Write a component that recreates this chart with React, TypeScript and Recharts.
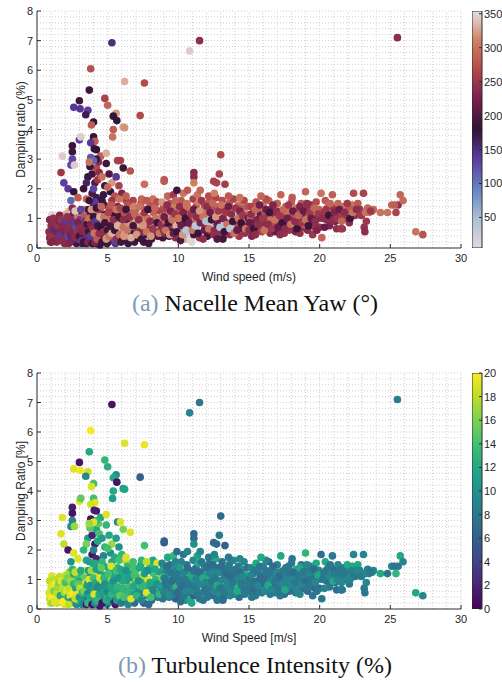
import React from 'react';
import {
  ScatterChart,
  Scatter,
  BarChart,
  Bar,
  XAxis,
  YAxis,
  ReferenceLine,
} from 'recharts';

// [wind speed (m/s), damping ratio (%), nacelle yaw (deg), turbulence intensity (%)]
const spikes = [
  [5.3, 6.93, 150, 1], [10.8, 6.65, 345, 9], [11.5, 7.0, 240, 8], [25.5, 7.1, 238, 8.5],
  [3.8, 6.05, 272, 20], [6.2, 5.62, 330, 19], [7.6, 5.57, 268, 19.5], [3.7, 5.33, 190, 12],
  [4.8, 5.05, 262, 13], [3.0, 4.97, 192, 1], [5.0, 4.82, 290, 12.5], [2.6, 4.75, 140, 19],
  [3.05, 4.7, 142, 19.5], [3.6, 4.65, 138, 18.5], [3.45, 4.5, 168, 9], [5.6, 4.55, 322, 10],
  [5.4, 4.45, 182, 12], [5.65, 4.3, 178, 1], [7.3, 4.47, 268, 6], [4.0, 4.25, 186, 14],
  [3.85, 4.15, 282, 19], [6.1, 4.08, 325, 11], [6.2, 4.06, 318, 11.5], [5.4, 4.0, 285, 12],
  [4.0, 3.75, 182, 14], [5.35, 3.75, 300, 11], [3.0, 3.65, 138, 19], [3.1, 3.75, 345, 15],
  [4.1, 3.6, 282, 19], [3.8, 3.55, 140, 18.5], [2.5, 3.45, 186, 1.5], [4.05, 3.35, 184, 1.5],
  [2.5, 3.25, 188, 1], [4.2, 3.32, 180, 1.5], [13.0, 3.15, 268, 7], [1.8, 3.1, 345, 19],
  [4.9, 3.2, 330, 19], [2.5, 3.0, 130, 9], [3.8, 3.05, 120, 1], [5.7, 2.95, 262, 9],
  [5.9, 2.95, 258, 19], [2.4, 2.8, 128, 10], [2.65, 2.8, 345, 17], [4.9, 2.85, 192, 13],
  [4.0, 2.95, 110, 19], [3.7, 2.9, 300, 17], [1.7, 2.55, 248, 19], [11.1, 2.55, 238, 7],
  [11.1, 2.4, 240, 7], [12.9, 2.5, 262, 8], [6.6, 2.6, 275, 19], [6.1, 2.7, 188, 16],
  [9.0, 2.3, 275, 6], [9.0, 2.25, 280, 6], [12.5, 2.25, 260, 7], [12.7, 2.2, 262, 7],
  [13.3, 2.15, 255, 6], [11.1, 2.2, 310, 10], [1.9, 2.2, 135, 18], [2.2, 2.0, 140, 1],
  [7.6, 2.15, 298, 14], [9.9, 1.95, 188, 7], [2.6, 1.9, 182, 19], [2.9, 1.7, 282, 19],
  [2.4, 1.6, 110, 10], [3.1, 1.3, 130, 12],
];

const lowWind = [
  [0.9, 0.35, 235, 18], [1.0, 0.75, 240, 19], [1.05, 1.12, 350, 19], [1.1, 0.55, 230, 20],
  [1.2, 0.9, 245, 18], [1.3, 0.3, 228, 17], [1.35, 0.65, 250, 20], [1.5, 1.0, 240, 16],
  [1.5, 0.45, 232, 19], [1.6, 0.78, 225, 18], [1.7, 0.25, 238, 14], [1.75, 0.6, 242, 19],
  [1.85, 0.95, 236, 20], [1.9, 0.4, 220, 17], [2.0, 0.7, 245, 15], [2.05, 1.15, 330, 18],
  [2.1, 0.3, 150, 8], [2.2, 0.55, 140, 2], [2.25, 0.85, 232, 15], [2.3, 1.25, 330, 17],
  [2.35, 0.2, 240, 9], [2.4, 0.65, 145, 10], [2.45, 1.0, 250, 19], [2.5, 0.4, 110, 1],
  [2.55, 0.75, 235, 12], [2.6, 1.15, 160, 11], [2.65, 0.3, 230, 9], [2.7, 0.55, 120, 12],
  [2.75, 0.9, 245, 19], [2.8, 0.15, 190, 10], [2.85, 1.05, 300, 14], [2.9, 0.45, 140, 13],
  [2.95, 0.7, 255, 19], [3.0, 0.25, 180, 8], [3.05, 0.95, 135, 12], [3.1, 0.55, 240, 16],
  [3.15, 1.25, 190, 11], [3.2, 0.15, 170, 9], [3.25, 0.8, 255, 19], [3.3, 0.4, 145, 3],
  [3.35, 1.1, 280, 15], [3.4, 0.65, 232, 10], [3.45, 0.2, 185, 11], [1.4, 0.2, 240, 18],
  [1.15, 0.3, 236, 20], [0.95, 0.2, 242, 19], [1.6, 1.1, 232, 18], [1.25, 0.45, 238, 19],
  [1.8, 0.5, 130, 17], [2.15, 0.2, 234, 16], [2.5, 1.35, 240, 13], [2.7, 1.25, 340, 18],
  [3.1, 0.35, 140, 12], [3.3, 0.9, 120, 13], [2.2, 0.95, 150, 13], [1.95, 0.15, 236, 19],
  [2.6, 0.5, 125, 11], [3.4, 1.3, 300, 19], [2.9, 0.3, 240, 14], [2.0, 0.45, 238, 18],
  [0.85, 0.55, 238, 19], [0.9, 0.95, 232, 18], [1.0, 0.4, 245, 20], [1.05, 0.2, 228, 17],
  [1.1, 0.8, 236, 19], [1.15, 1.0, 242, 18], [1.2, 0.6, 150, 16], [1.25, 0.25, 232, 19],
  [1.3, 0.85, 240, 20], [1.4, 0.55, 226, 18], [1.45, 0.75, 244, 17], [1.55, 0.3, 238, 19],
  [1.55, 0.9, 230, 16], [1.65, 0.45, 140, 12], [1.7, 0.95, 246, 19], [1.8, 0.7, 234, 18],
  [1.85, 0.25, 238, 20], [1.95, 0.55, 228, 17], [2.0, 0.9, 140, 14], [2.1, 0.6, 236, 19],
  [2.15, 1.05, 242, 16], [2.2, 0.4, 130, 12], [2.3, 0.7, 238, 18], [2.35, 0.45, 226, 19],
  [2.4, 0.95, 240, 17], [2.45, 0.25, 150, 9], [2.55, 0.55, 232, 20], [2.6, 0.85, 140, 13],
  [2.7, 0.35, 236, 18], [2.75, 0.7, 130, 11], [2.85, 0.5, 244, 19], [2.9, 0.85, 226, 15],
  [3.0, 0.4, 190, 10], [3.05, 0.7, 238, 18], [3.15, 0.25, 140, 11], [3.2, 0.55, 232, 13],
  [3.3, 0.2, 186, 9], [3.35, 0.6, 236, 16], [3.45, 0.9, 240, 19], [2.25, 0.15, 230, 18],
];

const risingWind = [
  [3.6, 2.4, 175, 11], [3.9, 2.5, 190, 2], [4.2, 2.7, 270, 12], [4.4, 2.55, 240, 14],
  [4.1, 2.2, 200, 1.5], [3.5, 2.2, 160, 16], [4.3, 2.3, 250, 12], [3.75, 2.75, 185, 15],
  [4.5, 3.1, 285, 12], [4.35, 2.9, 240, 15], [4.2, 3.0, 175, 13], [4.6, 2.4, 300, 11],
  [4.8, 2.1, 190, 13], [5.1, 2.5, 200, 12], [5.3, 2.2, 320, 17], [5.6, 2.4, 140, 11],
  [5.2, 1.9, 180, 10], [5.0, 2.05, 290, 14], [5.8, 2.1, 260, 10], [5.5, 1.75, 275, 12],
  [6.3, 1.6, 260, 18], [6.0, 1.85, 230, 13], [4.7, 1.8, 175, 9], [3.9, 1.85, 200, 1],
  [4.2, 1.7, 170, 2], [3.5, 1.65, 290, 12], [3.3, 2.0, 185, 13], [4.0, 2.0, 130, 9],
  [3.5, 0.15, 185, 1], [3.55, 0.5, 240, 12], [3.6, 0.9, 300, 13], [3.65, 1.3, 190, 11],
  [3.7, 0.3, 150, 9], [3.75, 0.7, 280, 19], [3.8, 1.1, 185, 10], [3.85, 0.2, 140, 1],
  [3.9, 0.55, 320, 17], [3.95, 0.95, 270, 14], [4.0, 1.4, 190, 12], [4.05, 0.35, 240, 8],
  [4.1, 0.8, 175, 10], [4.15, 1.2, 290, 19], [4.2, 0.15, 190, 12], [4.25, 0.6, 305, 15],
  [4.3, 1.0, 185, 13], [4.35, 0.4, 160, 9], [4.4, 0.85, 270, 19], [4.45, 1.3, 250, 11],
  [4.5, 0.25, 185, 2], [4.55, 0.7, 310, 14], [4.6, 1.1, 240, 12], [4.65, 0.45, 175, 10],
  [4.7, 0.9, 320, 18], [4.75, 1.45, 195, 12], [4.8, 0.3, 250, 10], [4.85, 0.75, 290, 13],
  [4.9, 1.15, 185, 11], [4.95, 0.5, 330, 19], [5.0, 0.95, 300, 15], [5.05, 0.2, 200, 9],
  [5.1, 1.35, 270, 12], [5.15, 0.65, 330, 14], [5.2, 1.05, 300, 16], [5.25, 0.4, 190, 10],
  [5.3, 0.85, 325, 13], [5.35, 1.25, 260, 11], [5.4, 0.3, 140, 3], [5.45, 0.7, 310, 15],
  [5.5, 1.1, 185, 12], [5.55, 0.15, 145, 1], [5.6, 0.55, 300, 14], [5.65, 0.95, 320, 11],
  [5.7, 1.4, 230, 13], [5.75, 0.35, 190, 10], [5.8, 0.8, 315, 19], [5.85, 1.2, 270, 12],
  [5.9, 0.6, 330, 13], [5.95, 1.0, 190, 11], [4.1, 1.55, 140, 12], [4.6, 1.6, 185, 13],
  [5.3, 1.6, 250, 12], [3.7, 1.6, 185, 11], [5.8, 1.65, 300, 14], [4.3, 0.5, 110, 12],
  [3.9, 0.3, 120, 9], [5.55, 0.25, 130, 2], [4.95, 0.15, 190, 10], [4.45, 0.1, 175, 1],
  [3.55, 0.8, 190, 11], [3.6, 0.2, 230, 13], [3.65, 0.55, 185, 9], [3.7, 1.0, 300, 19],
  [3.75, 0.4, 140, 12], [3.8, 0.8, 230, 10], [3.85, 1.3, 320, 17], [3.9, 0.15, 188, 1],
  [3.95, 0.65, 240, 11], [4.0, 1.05, 185, 14], [4.05, 0.5, 300, 19], [4.1, 0.2, 230, 10],
  [4.15, 0.9, 140, 12], [4.2, 1.35, 186, 11], [4.25, 0.3, 280, 13], [4.3, 0.75, 190, 9],
  [4.4, 0.5, 240, 12], [4.45, 1.05, 330, 19], [4.5, 0.7, 180, 10], [4.55, 1.4, 290, 15],
  [4.6, 0.2, 186, 1], [4.7, 0.55, 240, 11], [4.75, 1.05, 300, 13], [4.8, 0.85, 190, 10],
  [4.9, 0.3, 320, 12], [5.0, 0.6, 186, 9], [5.05, 1.2, 260, 14], [5.1, 0.4, 300, 11],
  [5.2, 0.75, 190, 12], [5.25, 1.45, 280, 19], [5.3, 0.5, 330, 13], [5.4, 0.95, 240, 10],
  [5.5, 0.6, 186, 12], [5.6, 1.3, 300, 14], [5.65, 0.3, 240, 11], [5.7, 0.75, 330, 13],
  [5.8, 1.05, 190, 10], [5.85, 0.45, 300, 15], [5.9, 1.35, 260, 12], [5.95, 0.2, 186, 9],
];

const midWind = [
  [6.05, 0.25, 190, 8], [6.1, 0.7, 300, 13], [6.2, 1.15, 270, 12], [6.25, 0.45, 330, 15],
  [6.35, 0.95, 190, 10], [6.4, 1.45, 275, 13], [6.5, 0.3, 240, 9], [6.55, 0.75, 320, 14],
  [6.6, 1.2, 290, 12], [6.7, 0.5, 185, 11], [6.75, 1.0, 300, 19], [6.8, 1.6, 260, 14],
  [6.9, 0.2, 190, 7], [6.95, 0.85, 320, 13], [7.0, 1.3, 285, 15], [7.1, 0.6, 250, 10],
  [7.15, 1.05, 305, 12], [7.2, 0.35, 180, 8], [7.3, 0.8, 330, 14], [7.35, 1.5, 280, 12],
  [7.45, 0.55, 240, 9], [7.5, 1.1, 300, 18], [7.55, 0.2, 190, 6], [7.65, 0.9, 315, 13],
  [7.7, 1.3, 265, 12], [7.8, 0.45, 200, 10], [7.85, 1.0, 300, 19], [7.95, 0.7, 245, 11],
  [8.0, 1.45, 275, 13], [8.1, 0.3, 190, 7], [8.15, 0.85, 325, 12], [8.25, 1.2, 290, 14],
  [8.3, 0.55, 240, 9], [8.4, 1.0, 300, 13], [8.45, 1.55, 280, 15], [8.55, 0.4, 200, 8],
  [8.6, 0.8, 320, 12], [8.7, 1.25, 260, 11], [8.75, 0.6, 240, 10], [8.85, 1.05, 305, 16],
  [8.9, 0.35, 190, 8], [8.95, 1.4, 275, 12], [6.3, 1.75, 285, 19], [7.4, 1.65, 290, 13],
  [8.2, 1.65, 300, 12], [6.45, 0.15, 175, 9], [7.9, 0.15, 190, 7], [8.5, 1.55, 270, 19],
  [6.85, 1.4, 310, 14], [7.75, 1.6, 280, 18],
  [6.1, 0.95, 240, 12], [6.15, 0.4, 320, 14], [6.3, 1.3, 186, 10], [6.4, 0.6, 300, 13],
  [6.55, 1.05, 240, 11], [6.65, 0.35, 330, 19], [6.8, 0.75, 190, 12], [6.9, 1.15, 290, 14],
  [7.05, 0.45, 320, 13], [7.2, 0.95, 240, 10], [7.25, 1.4, 300, 12], [7.4, 0.3, 186, 9],
  [7.5, 0.75, 320, 13], [7.6, 1.2, 250, 11], [7.75, 0.55, 300, 19], [7.85, 1.3, 186, 10],
  [8.0, 0.9, 240, 12], [8.05, 0.4, 320, 14], [8.2, 0.65, 250, 9], [8.35, 1.35, 290, 12],
  [8.5, 0.85, 186, 10], [8.65, 0.5, 300, 13], [8.8, 0.8, 240, 11], [8.85, 1.55, 320, 9],
  [8.95, 0.6, 250, 10],
];

const ratedWind = [
  [9.05, 0.5, 240, 8], [9.1, 0.9, 290, 7], [9.15, 1.3, 260, 9], [9.2, 0.7, 200, 6],
  [9.3, 1.1, 320, 11], [9.35, 0.4, 190, 8], [9.4, 1.5, 275, 7], [9.5, 0.8, 245, 9],
  [9.55, 1.2, 300, 12], [9.6, 0.55, 185, 7], [9.7, 1.0, 270, 8], [9.75, 1.4, 310, 10],
  [9.8, 0.35, 240, 6], [9.85, 0.75, 330, 13], [9.9, 1.15, 255, 8], [10.0, 0.6, 40, 9],
  [10.05, 1.35, 290, 7], [10.1, 0.9, 200, 8], [10.2, 1.6, 280, 9], [10.25, 0.45, 250, 7],
  [10.3, 1.05, 320, 12], [10.4, 0.7, 30, 8], [10.45, 1.25, 270, 9], [10.5, 0.3, 330, 10],
  [10.55, 0.85, 190, 7], [10.6, 1.5, 300, 8], [10.7, 1.0, 245, 11], [10.75, 0.55, 50, 7],
  [10.8, 1.3, 285, 9], [10.85, 0.3, 350, 12], [10.9, 0.75, 240, 8], [11.0, 1.15, 320, 7],
  [11.05, 1.65, 260, 9], [11.1, 0.45, 190, 6], [11.2, 0.95, 300, 10], [11.25, 1.4, 275, 8],
  [11.3, 0.65, 45, 9], [11.4, 1.1, 240, 7], [11.45, 1.55, 310, 12], [11.5, 0.35, 250, 8],
  [11.6, 0.85, 200, 9], [11.65, 1.25, 290, 7], [11.7, 0.55, 35, 10], [11.8, 1.0, 330, 8],
  [11.85, 1.45, 265, 9], [11.9, 0.7, 240, 7], [12.0, 1.2, 300, 11], [12.05, 0.4, 190, 8],
  [12.1, 0.9, 40, 9], [12.2, 1.55, 280, 8], [12.25, 0.6, 250, 7], [12.3, 1.05, 320, 13],
  [12.4, 1.35, 270, 9], [12.45, 0.8, 350, 8], [12.5, 0.45, 240, 7], [12.6, 1.15, 300, 9],
  [12.65, 1.7, 260, 12], [12.7, 0.65, 45, 8], [12.8, 0.95, 190, 9], [12.85, 1.4, 285, 7],
  [12.9, 0.5, 240, 10], [13.0, 1.25, 330, 8], [13.05, 0.75, 35, 9], [13.1, 1.6, 270, 8],
  [13.2, 0.4, 250, 7], [13.25, 1.0, 300, 12], [13.3, 1.35, 240, 9], [13.4, 0.6, 50, 8],
  [13.45, 1.15, 320, 7], [13.5, 0.85, 190, 10], [13.6, 1.5, 280, 8], [13.65, 0.45, 245, 9],
  [13.7, 1.05, 350, 7], [13.8, 0.7, 40, 8], [13.85, 1.3, 290, 11], [13.9, 1.65, 260, 9],
  [14.0, 0.55, 240, 7], [14.05, 0.95, 320, 8], [14.1, 1.2, 200, 9], [14.2, 0.8, 270, 13],
  [14.25, 1.45, 300, 8], [14.3, 0.4, 250, 7], [14.4, 1.05, 240, 9], [14.45, 0.65, 190, 8],
  [14.5, 1.35, 285, 10], [14.6, 0.9, 330, 7], [14.65, 1.6, 265, 9], [14.7, 0.5, 245, 8],
  [14.8, 1.15, 300, 12], [14.85, 0.75, 240, 9], [14.9, 1.4, 275, 7], [9.25, 1.75, 290, 12],
  [10.35, 1.85, 300, 8], [10.65, 1.95, 280, 9], [11.35, 1.8, 300, 11], [12.15, 1.75, 270, 8],
  [12.55, 1.85, 310, 9], [13.55, 1.75, 280, 8], [14.35, 1.7, 300, 9], [9.65, 1.8, 250, 13],
  [10.15, 0.25, 200, 7], [11.75, 0.3, 240, 8], [13.15, 0.3, 190, 7], [10.95, 0.2, 350, 12],
  [12.75, 0.3, 200, 8], [11.55, 1.95, 290, 9], [13.95, 1.2, 45, 8], [10.45, 0.5, 40, 8],
  [12.35, 0.7, 30, 9],
  [9.0, 1.05, 220, 8], [9.1, 0.6, 300, 9], [9.2, 1.45, 240, 7], [9.3, 0.85, 186, 8],
  [9.4, 0.45, 320, 10], [9.45, 1.25, 230, 8], [9.55, 0.95, 300, 7], [9.65, 0.5, 215, 9],
  [9.75, 1.15, 250, 8], [9.8, 1.6, 290, 9], [9.9, 0.55, 186, 7], [10.0, 1.0, 300, 8],
  [10.1, 1.4, 240, 11], [10.2, 0.75, 215, 7], [10.3, 0.45, 320, 8], [10.35, 1.2, 230, 9],
  [10.5, 1.0, 186, 8], [10.55, 0.6, 40, 9], [10.65, 1.4, 300, 7], [10.75, 0.85, 220, 8],
  [10.9, 1.15, 250, 12], [11.0, 0.6, 300, 9], [11.1, 1.3, 215, 7], [11.2, 0.75, 35, 8],
  [11.3, 1.05, 240, 9], [11.4, 0.5, 186, 8], [11.5, 1.25, 320, 7], [11.55, 0.85, 230, 9],
  [11.65, 1.6, 250, 8], [11.75, 1.05, 300, 12], [11.85, 0.6, 215, 8], [11.95, 0.9, 45, 9],
  [12.05, 1.4, 240, 7], [12.15, 0.65, 300, 8], [12.25, 1.2, 220, 9], [12.35, 0.95, 186, 8],
  [12.45, 1.5, 290, 7], [12.55, 0.6, 240, 9], [12.65, 1.05, 320, 8], [12.75, 0.8, 215, 12],
  [12.85, 1.25, 250, 9], [12.95, 0.7, 40, 8], [13.05, 1.45, 300, 7], [13.15, 1.0, 230, 9],
  [13.25, 0.55, 186, 8], [13.35, 1.2, 250, 7], [13.45, 0.8, 300, 9], [13.55, 1.4, 220, 8],
  [13.65, 0.65, 35, 9], [13.75, 1.15, 240, 7], [13.85, 0.9, 186, 8], [13.95, 0.5, 300, 9],
  [14.05, 1.35, 250, 8], [14.15, 0.6, 215, 12], [14.25, 1.0, 300, 9], [14.35, 1.25, 230, 7],
  [14.45, 0.85, 186, 8], [14.55, 1.1, 250, 9], [14.75, 0.65, 300, 8], [14.95, 1.0, 220, 9],
];

const highWind = [
  [15.0, 0.6, 240, 8], [15.1, 1.0, 280, 7], [15.15, 1.4, 260, 9], [15.25, 0.8, 220, 7],
  [15.3, 1.2, 300, 8], [15.4, 0.5, 245, 9], [15.5, 1.55, 275, 12], [15.55, 0.95, 230, 7],
  [15.65, 1.3, 290, 8], [15.7, 0.7, 250, 9], [15.8, 1.1, 215, 7], [15.9, 0.55, 265, 8],
  [16.0, 1.45, 300, 9], [16.05, 0.85, 240, 7], [16.15, 1.2, 280, 8], [16.25, 0.65, 220, 9],
  [16.3, 1.05, 255, 8], [16.4, 1.6, 290, 7], [16.5, 0.5, 240, 8], [16.55, 0.95, 300, 9],
  [16.65, 1.35, 225, 8], [16.75, 0.75, 270, 7], [16.8, 1.15, 245, 9], [16.9, 0.55, 210, 8],
  [17.0, 1.5, 285, 9], [17.1, 0.9, 240, 7], [17.2, 1.25, 300, 8], [17.25, 1.8, 290, 12],
  [17.3, 0.65, 230, 8], [17.4, 1.05, 260, 9], [17.5, 0.5, 245, 7], [17.6, 1.4, 280, 8],
  [17.65, 0.85, 220, 9], [17.75, 1.2, 300, 8], [17.85, 0.6, 250, 7], [17.9, 1.0, 235, 9],
  [18.0, 1.55, 285, 8], [18.1, 0.75, 240, 7], [18.2, 1.15, 270, 9], [18.3, 0.55, 225, 8],
  [18.35, 1.35, 300, 12], [18.45, 0.9, 245, 8], [18.55, 1.25, 260, 9], [18.65, 0.65, 240, 7],
  [18.7, 1.5, 280, 8], [18.8, 1.05, 230, 9], [18.9, 0.8, 300, 8], [19.0, 1.9, 290, 13],
  [19.05, 1.3, 250, 8], [19.15, 0.6, 235, 7], [19.25, 1.1, 285, 9], [19.35, 1.45, 240, 8],
  [19.45, 0.85, 220, 9], [19.55, 1.2, 300, 8], [19.65, 0.7, 245, 7], [19.75, 1.55, 270, 12],
  [19.85, 1.0, 230, 8], [19.95, 1.3, 285, 9], [20.0, 0.7, 240, 7], [20.1, 1.85, 300, 7],
  [16.2, 1.65, 270, 9], [18.05, 1.7, 280, 8], [15.85, 1.75, 290, 12], [17.2, 0.45, 240, 8],
  [19.5, 0.45, 250, 8], [15.2, 0.4, 230, 8], [18.6, 0.5, 245, 9],
  [15.05, 0.85, 215, 8], [15.15, 1.15, 240, 9], [15.35, 0.65, 186, 7], [15.45, 1.3, 290, 8],
  [15.6, 0.8, 240, 9], [15.75, 1.45, 220, 8], [15.95, 1.0, 250, 7], [16.1, 0.6, 300, 9],
  [16.2, 1.3, 215, 8], [16.35, 0.8, 240, 12], [16.45, 1.2, 186, 8], [16.6, 0.65, 250, 9],
  [16.7, 1.45, 230, 7], [16.85, 0.95, 300, 8], [16.95, 1.25, 240, 9], [17.05, 0.7, 215, 8],
  [17.15, 1.1, 250, 7], [17.35, 0.85, 186, 9], [17.45, 1.3, 290, 8], [17.55, 0.65, 240, 12],
  [17.7, 1.0, 220, 9], [17.8, 1.45, 250, 8], [17.95, 0.8, 300, 9], [18.1, 1.25, 215, 7],
  [18.25, 0.9, 240, 8], [18.4, 0.65, 186, 9], [18.5, 1.1, 290, 8], [18.6, 1.4, 230, 12],
  [18.75, 0.85, 250, 9], [18.85, 1.25, 215, 8], [19.0, 0.95, 300, 7], [19.1, 1.5, 240, 9],
  [19.2, 0.75, 186, 8], [19.3, 1.2, 250, 9], [19.4, 1.0, 215, 8], [19.6, 1.35, 290, 7],
  [19.7, 0.9, 240, 9], [19.8, 0.6, 230, 8], [19.9, 1.15, 250, 12], [15.45, 0.45, 240, 8],
];

const cutOutWind = [
  [20.15, 0.35, 290, 8], [20.3, 1.2, 250, 8], [20.4, 1.6, 280, 12], [20.5, 0.95, 240, 7],
  [20.6, 1.4, 300, 9], [20.7, 0.75, 230, 8], [20.8, 1.15, 270, 9], [20.9, 1.8, 285, 8],
  [21.0, 1.35, 245, 7], [21.1, 0.9, 225, 8], [21.2, 0.65, 240, 7], [21.3, 1.5, 290, 9],
  [21.45, 1.1, 260, 8], [21.6, 0.65, 240, 8], [21.7, 1.4, 300, 8], [21.85, 1.0, 250, 9],
  [22.0, 1.25, 270, 9], [22.1, 0.85, 240, 8], [22.3, 1.45, 300, 12], [22.4, 1.85, 270, 9],
  [22.5, 1.1, 245, 8], [22.7, 1.5, 280, 12], [22.85, 1.3, 250, 9], [23.1, 1.85, 260, 9],
  [23.15, 0.7, 245, 8], [23.2, 0.55, 240, 8], [23.3, 0.9, 250, 9], [23.4, 1.35, 290, 8],
  [23.5, 1.2, 300, 9], [21.5, 0.65, 250, 8], [22.2, 1.3, 280, 9], [23.7, 1.25, 270, 8],
  [23.8, 1.3, 290, 9], [24.3, 1.2, 300, 12], [24.8, 1.2, 300, 8], [25.1, 1.45, 290, 9],
  [25.4, 1.2, 260, 13], [25.55, 1.45, 240, 8], [25.7, 1.8, 290, 12], [25.9, 1.6, 295, 9],
  [26.8, 0.55, 300, 12], [27.3, 0.45, 275, 9], [25.3, 1.45, 285, 8],
  [20.2, 1.0, 240, 8], [20.35, 0.7, 215, 9], [20.45, 1.3, 250, 8], [20.65, 1.1, 186, 9],
  [20.75, 1.5, 290, 8], [20.95, 0.95, 240, 12], [21.05, 1.2, 230, 8], [21.25, 1.0, 250, 9],
  [21.4, 1.3, 215, 8], [21.55, 0.9, 290, 9], [21.75, 1.2, 240, 8], [21.95, 1.5, 250, 12],
  [22.15, 1.0, 186, 9], [22.35, 1.2, 300, 8], [22.6, 1.3, 240, 9], [22.95, 1.1, 250, 8],
  [23.25, 1.2, 300, 9], [23.6, 1.25, 250, 8],
];

const windTicks = [0, 5, 10, 15, 20, 25, 30];
const dampingTicks = [0, 1, 2, 3, 4, 5, 6, 7, 8];
const yawTicks = [50, 100, 150, 200, 250, 300, 350];
const yawRange = [5, 354];
const tiTicks = [0, 2, 4, 6, 8, 10, 12, 14, 16, 18, 20];
const tiRange = [0, 20];

// grid: every 1 m/s, every 0.2 % damping
const gridX = Array.from({ length: 30 }, (_, i) => i + 1);
const gridY = Array.from({ length: 40 }, (_, i) => +((i + 1) * 0.2).toFixed(1));

const twilight = [
  [0, [226, 217, 226]], [0.125, [170, 192, 212]], [0.25, [98, 132, 193]],
  [0.375, [93, 60, 160]], [0.5, [47, 20, 54]], [0.625, [118, 30, 76]],
  [0.75, [178, 72, 76]], [0.875, [206, 128, 98]], [0.95, [220, 190, 175]],
  [1, [226, 217, 226]],
];
const viridis = [
  [0, [68, 1, 84]], [0.1, [72, 36, 117]], [0.2, [65, 68, 135]], [0.3, [53, 95, 141]],
  [0.4, [42, 120, 142]], [0.5, [33, 145, 140]], [0.6, [34, 168, 132]],
  [0.7, [68, 191, 112]], [0.8, [122, 209, 81]], [0.9, [189, 223, 38]], [1, [253, 231, 37]],
];

function cmap(stops: any[], t: number) {
  t = Math.max(0, Math.min(1, t));
  for (let i = 1; i < stops.length; i++) {
    const [t1, c1] = stops[i];
    const [t0, c0] = stops[i - 1];
    if (t <= t1) {
      const f = (t - t0) / (t1 - t0);
      const c = c0.map((v: number, k: number) => Math.round(v + (c1[k] - v) * f));
      return `rgb(${c[0]},${c[1]},${c[2]})`;
    }
  }
  return 'rgb(226,217,226)';
}

const samples = [...lowWind, ...risingWind, ...midWind, ...ratedWind, ...highWind, ...cutOutWind, ...spikes]
  .map(([ws, dr, yaw, ti]) => ({ ws, dr, yaw, ti }));

const yawData = samples.map((s) => ({
  x: s.ws, y: s.dr, fill: cmap(twilight, (s.yaw - yawRange[0]) / (yawRange[1] - yawRange[0])),
}));
const tiData = samples.map((s) => ({
  x: s.ws, y: s.dr, fill: cmap(viridis, (s.ti - tiRange[0]) / (tiRange[1] - tiRange[0])),
}));

const FONT = '"Liberation Sans", Arial, sans-serif';
const AXIS = '#2b2b2b';

const YTick = ({ x, y, payload }: any) => (
  <g>
    <line x1={x + 4} x2={x + 8} y1={y} y2={y} stroke={AXIS} />
    <text x={x} y={y} dy={4} textAnchor="end" fontSize={11} fontFamily={FONT} fill="#262626">
      {payload.value}
    </text>
  </g>
);

const XTick = ({ x, y, payload }: any) => (
  <g>
    <line x1={x} x2={x} y1={y - 4} y2={y - 8} stroke={AXIS} />
    <text x={x} y={y} dy={10} textAnchor="middle" fontSize={11} fontFamily={FONT} fill="#262626">
      {payload.value}
    </text>
  </g>
);

const BarTick = ({ x, y, payload }: any) => (
  <g>
    <line x1={x - 2} x2={x - 5} y1={y} y2={y} stroke={AXIS} />
    <text x={x} y={y} dy={4} textAnchor="start" fontSize={11} fontFamily={FONT} fill="#262626">
      {payload.value}
    </text>
  </g>
);

function Panel({ top, mTop, mBottom, data, xLabel, yLabel, stops, range, ticks, gid, tag, caption }: any) {
  const gradient = Array.from({ length: 41 }, (_, i) => i / 40);
  return (
    <div style={{ position: 'absolute', left: 0, top, width: 502, height: 360 }}>
      <div style={{ position: 'absolute', left: 0, top: 0 }}>
        <ScatterChart width={470} height={290} margin={{ top: mTop, right: 9, bottom: mBottom, left: 10 }}>
          <XAxis
            type="number"
            dataKey="x"
            domain={[0, 30]}
            ticks={windTicks}
            height={30}
            stroke={AXIS}
            tickSize={0}
            tickMargin={4}
            tick={<XTick />}
            label={{ value: xLabel, position: 'insideBottom', offset: -3, fontSize: 12, fontFamily: FONT, fill: '#262626' }}
          />
          <YAxis
            type="number"
            dataKey="y"
            domain={[0, 8]}
            ticks={dampingTicks}
            width={27}
            stroke={AXIS}
            tickSize={0}
            tickMargin={4}
            tick={<YTick />}
            label={{ value: yLabel, angle: -90, position: 'insideLeft', offset: 11, fontSize: 12, fontFamily: FONT, fill: '#262626', style: { textAnchor: 'middle' } }}
          />
          {gridY.map((v) => (
            <ReferenceLine key={`gy${v}`} y={v} stroke="#cfcfcf" strokeDasharray="1 2" />
          ))}
          {gridX.map((v) => (
            <ReferenceLine key={`gx${v}`} x={v} stroke="#cfcfcf" strokeDasharray="1 2" />
          ))}
          <Scatter
            data={data}
            isAnimationActive={false}
            shape={(p: any) => <circle cx={p.cx} cy={p.cy} r={3.8} fill={p.payload.fill} />}
          />
        </ScatterChart>
      </div>
      <div style={{ position: 'absolute', left: 472, top: 0 }}>
        <BarChart
          width={40}
          height={290}
          data={[{ name: 'bar', span: range }]}
          margin={{ top: mTop, right: 0, bottom: mBottom + 30, left: 0 }}
          barCategoryGap={0}
        >
          <defs>
            <linearGradient id={gid} x1="0" y1="1" x2="0" y2="0">
              {gradient.map((t) => (
                <stop key={t} offset={t} stopColor={cmap(stops, t)} />
              ))}
            </linearGradient>
          </defs>
          <XAxis dataKey="name" type="category" hide />
          <YAxis
            orientation="right"
            type="number"
            domain={range}
            ticks={ticks}
            width={30}
            axisLine={false}
            tickSize={0}
            tickMargin={2}
            tick={<BarTick />}
            allowDataOverflow
          />
          <Bar dataKey="span" fill={`url(#${gid})`} stroke={AXIS} strokeWidth={1} isAnimationActive={false} />
        </BarChart>
      </div>
      <div
        style={{
          position: 'absolute', left: 8, width: 494, top: mTop + 278, textAlign: 'center',
          fontFamily: '"Liberation Serif", "DejaVu Serif", serif', fontSize: 24, lineHeight: '28px', color: '#111',
        }}
      >
        <span style={{ color: '#7c9bb8' }}>{tag}</span> {caption}
      </div>
    </div>
  );
}

export default function App() {
  return (
    <div style={{ position: 'absolute', left: 0, top: 0, width: 502, height: 682, background: '#fff', overflow: 'hidden' }}>
      <Panel
        top={0} mTop={11} mBottom={12} data={yawData}
        xLabel="Wind speed (m/s)" yLabel="Damping ratio (%)"
        stops={twilight} range={yawRange} ticks={yawTicks} gid="twilightGrad"
        tag="(a)" caption="Nacelle Mean Yaw (°)"
      />
      <Panel
        top={360} mTop={13} mBottom={11} data={tiData}
        xLabel="Wind Speed [m/s]" yLabel="Damping Ratio [%]"
        stops={viridis} range={tiRange} ticks={tiTicks} gid="viridisGrad"
        tag="(b)" caption="Turbulence Intensity (%)"
      />
    </div>
  );
}
